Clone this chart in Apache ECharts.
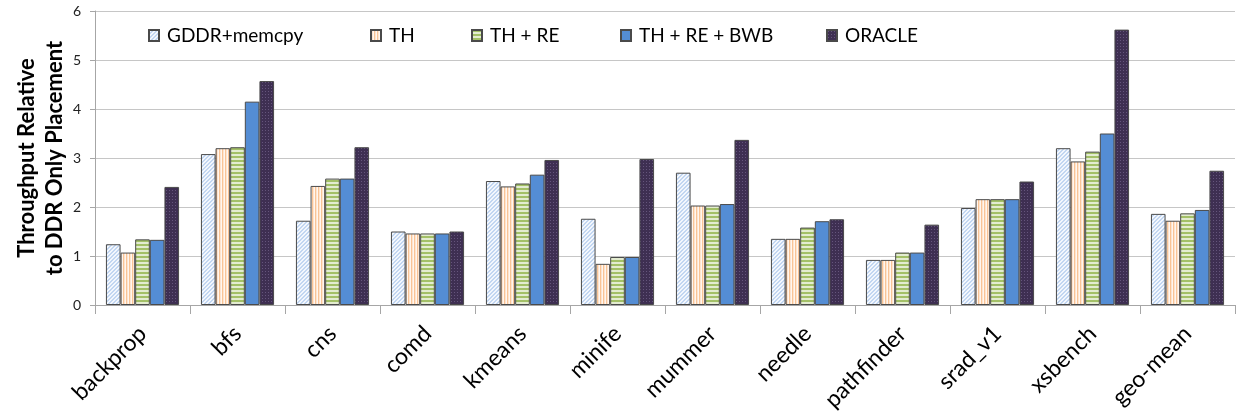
<!DOCTYPE html>
<html>
<head>
<meta charset="utf-8">
<script src="https://cdn.jsdelivr.net/npm/echarts@6/dist/echarts.min.js"></script>
<style>
  html, body { margin: 0; padding: 0; background: #fff; }
  #chart { width: 1236px; height: 414px; }
</style>
</head>
<body>
<div id="chart"></div>
<script>
// Benchmarks and throughput relative to DDR-only placement
const categories = ['backprop', 'bfs', 'cns', 'comd', 'kmeans', 'minife', 'mummer', 'needle', 'pathfinder', 'srad_v1', 'xsbench', 'geo-mean'];
const seriesNames = ['GDDR+memcpy', 'TH', 'TH + RE', 'TH + RE + BWB', 'ORACLE'];
const gddrMemcpy = [1.24, 3.08, 1.72, 1.50, 2.53, 1.76, 2.70, 1.35, 0.92, 1.98, 3.20, 1.86];
const th         = [1.07, 3.20, 2.43, 1.46, 2.42, 0.84, 2.03, 1.35, 0.92, 2.16, 2.93, 1.72];
const thRe       = [1.34, 3.22, 2.58, 1.46, 2.48, 0.98, 2.03, 1.58, 1.07, 2.16, 3.13, 1.87];
const thReBwb    = [1.33, 4.15, 2.58, 1.46, 2.66, 0.98, 2.06, 1.71, 1.07, 2.16, 3.50, 1.94];
const oracle     = [2.41, 4.57, 3.22, 1.50, 2.96, 2.98, 3.37, 1.75, 1.64, 2.52, 5.62, 2.74];
const yTicks = [0, 1, 2, 3, 4, 5, 6];

// Small repeating tiles used as bar fills
function tile(w, h, draw) {
  const c = document.createElement('canvas');
  c.width = w; c.height = h;
  draw(c.getContext('2d'));
  return { image: c, repeat: 'repeat' };
}
const diagBlue = tile(4, 4, g => {
  g.fillStyle = '#f3f7fd'; g.fillRect(0, 0, 4, 4);
  g.fillStyle = '#c2d6f1';
  for (let i = 0; i < 4; i++) {
    g.fillRect(3 - i, i, 1, 1);
    g.fillRect((4 - i) % 4, i, 1, 1);
  }
});
const vertPeach = tile(3, 1, g => {
  g.fillStyle = '#fde4cf'; g.fillRect(0, 0, 3, 1);
  g.fillStyle = '#f9c496'; g.fillRect(0, 0, 1, 1);
  g.fillStyle = '#fff6ef'; g.fillRect(2, 0, 1, 1);
});
const horizGreen = tile(1, 4, g => {
  g.fillStyle = '#e3ecd0'; g.fillRect(0, 0, 1, 4);
  g.fillStyle = '#a3c067'; g.fillRect(0, 0, 1, 2);
});
const dotPurple = tile(3, 3, g => {
  g.fillStyle = '#3e2f52'; g.fillRect(0, 0, 3, 3);
  g.fillStyle = '#65557c'; g.fillRect(1, 1, 1, 1);
});

const fills = [diagBlue, vertPeach, horizGreen, '#548dd4', dotPurple];
const values = [gddrMemcpy, th, thRe, thReBwb, oracle];
const legendLeft = [148, 370, 471, 620, 826];

const chart = echarts.init(document.getElementById('chart'));
chart.setOption({
  animation: false,
  textStyle: { fontFamily: 'Lato, "Open Sans", sans-serif' },
  legend: seriesNames.map((name, i) => ({
    top: 26,
    left: legendLeft[i],
    padding: 0,
    icon: 'rect',
    itemWidth: 10,
    itemHeight: 11,
    itemGap: 0,
    textStyle: { fontSize: 19, color: '#000', padding: [0, 0, 0, 3] },
    data: [name]
  })),
  grid: { left: 95, right: 1, top: 11, bottom: 109, containLabel: false, outerBoundsMode: 'none' },
  xAxis: {
    type: 'category',
    data: categories,
    axisLine: { lineStyle: { color: '#a6a6a6', width: 1 } },
    axisTick: { show: true, length: 9, lineStyle: { color: '#a6a6a6' } },
    axisLabel: { rotate: 45, fontSize: 23, color: '#000', margin: 25, interval: 0 }
  },
  yAxis: {
    type: 'value',
    min: yTicks[0],
    max: yTicks[yTicks.length - 1],
    interval: 1,
    name: 'Throughput Relative\nto DDR Only Placement',
    nameLocation: 'middle',
    nameGap: 26,
    nameMoveOverlap: false,
    nameTextStyle: { fontSize: 22, fontWeight: 'bold', color: '#000', lineHeight: 28 },
    axisLine: { show: true, lineStyle: { color: '#a6a6a6' } },
    axisTick: { show: true, length: 5, lineStyle: { color: '#a6a6a6' } },
    axisLabel: { fontSize: 14, color: '#222', margin: 14 },
    splitLine: { lineStyle: { color: '#c6c6c6' } }
  },
  series: seriesNames.map((name, i) => ({
    name,
    type: 'bar',
    data: values[i],
    barGap: '0%',
    barCategoryGap: '23%',
    itemStyle: { color: fills[i], borderColor: '#4a4a4a', borderWidth: 1 }
  }))
});
</script>
</body>
</html>
